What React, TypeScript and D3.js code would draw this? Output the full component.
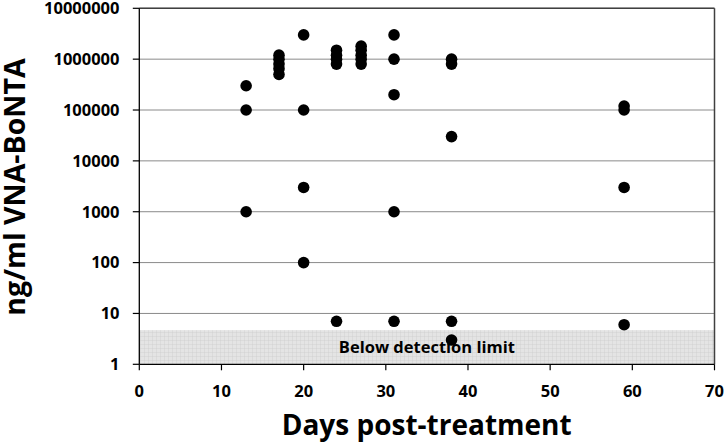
import React from "react";
import * as d3 from "d3";

const days = [13, 13, 13, 17, 17, 17, 17, 17, 20, 20, 20, 20, 24, 24, 24, 24, 24, 27, 27, 27, 27, 27, 31, 31, 31, 31, 31, 38, 38, 38, 38, 38, 59, 59, 59, 59];
const values = [300000, 100000, 1000, 1200000, 1000000, 800000, 650000, 500000, 3000000, 100000, 3000, 100, 1500000, 1200000, 1000000, 800000, 7, 1800000, 1500000, 1200000, 1000000, 800000, 3000000, 1000000, 200000, 1000, 7, 1000000, 800000, 30000, 7, 3, 120000, 100000, 3000, 6];
const xTicks = [0, 10, 20, 30, 40, 50, 60, 70];
const yTicks = [1, 10, 100, 1000, 10000, 100000, 1000000, 10000000];
const detectionLimit = 4.7;
const xTitle = "Days post-treatment";
const yTitle = "ng/ml VNA-BoNTA";
const bandLabel = "Below detection limit";

export default function App() {
  const W = 726, H = 446;
  const left = 139.3, right = 714.5, top = 8.3, bottom = 364.3;
  const x = d3.scaleLinear().domain([0, 70]).range([left, right]);
  const y = d3.scaleLog().domain([1, 1e7]).range([bottom, top]);
  const font = "'Open Sans', 'DejaVu Sans', sans-serif";
  const pts = days.map((d, i) => ({ d, v: values[i] }));
  return (
    <svg width={W} height={H} style={{ position: "absolute", left: 0, top: 0, display: "block", background: "#fff" }}>
      <defs>
        <pattern id="gridpat" width="4" height="4" patternUnits="userSpaceOnUse">
          <rect width="4" height="4" fill="#e4e4e4" />
          <path d="M4 0 L0 0 L0 4" fill="none" stroke="#cdcdcd" strokeWidth="0.8" />
        </pattern>
      </defs>
      <rect x={left} y={y(detectionLimit)} width={right - left} height={bottom - y(detectionLimit)} fill="url(#gridpat)" />
      {yTicks.slice(1).map((t) => (
        <line key={"g" + t} x1={left} x2={right} y1={y(t)} y2={y(t)} stroke="#8a8a8a" strokeWidth={1} />
      ))}
      <text x={(left + right) / 2} y={353} textAnchor="middle" fontFamily={font} fontWeight="bold" fontSize={16.5} fill="#000">{bandLabel}</text>
      <line x1={left} x2={right} y1={top} y2={top} stroke="#404040" strokeWidth={1.5} />
      <line x1={right} x2={right} y1={top} y2={bottom} stroke="#404040" strokeWidth={1.5} />
      <line x1={left} x2={left} y1={top} y2={bottom} stroke="#000" strokeWidth={1.3} />
      <line x1={left} x2={right} y1={bottom} y2={bottom} stroke="#000" strokeWidth={1.3} />
      {yTicks.map((t) => (
        <g key={"y" + t}>
          <line x1={left - 6.5} x2={left} y1={y(t)} y2={y(t)} stroke="#000" strokeWidth={1.2} />
          <text x={119.5} y={y(t) + 5.8} textAnchor="end" fontFamily={font} fontWeight="bold" fontSize={16.5} fill="#000">{String(t)}</text>
        </g>
      ))}
      {xTicks.map((t) => (
        <g key={"x" + t}>
          <line x1={x(t)} x2={x(t)} y1={bottom} y2={bottom + 6} stroke="#000" strokeWidth={1.2} />
          <text x={x(t)} y={397} textAnchor="middle" fontFamily={font} fontWeight="bold" fontSize={16.5} fill="#000">{String(t)}</text>
        </g>
      ))}
      {pts.map((p, i) => (
        <circle key={i} cx={x(p.d)} cy={y(p.v)} r={5.8} fill="#000" />
      ))}
      <text x={426.7} y={435} textAnchor="middle" fontFamily={font} fontWeight="bold" fontSize={28} fill="#000">{xTitle}</text>
      <text transform={`translate(25,187) rotate(-90)`} textAnchor="middle" fontFamily={font} fontWeight="bold" fontSize={28.5} fill="#000">{yTitle}</text>
    </svg>
  );
}
